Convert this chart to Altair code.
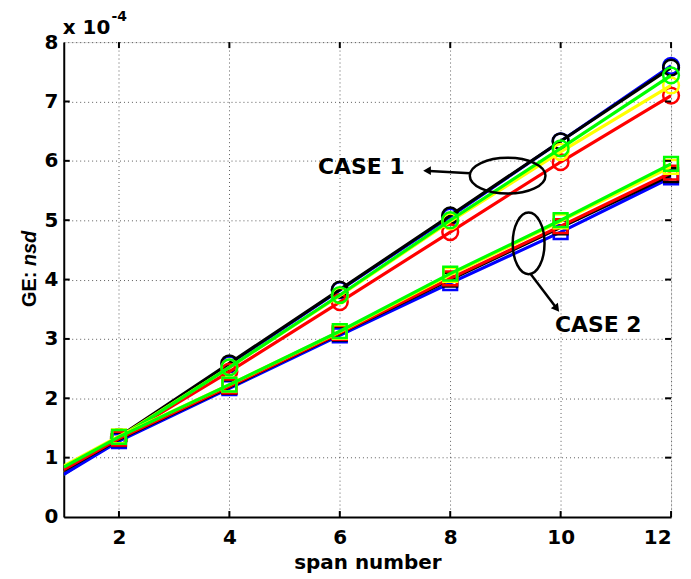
import altair as alt
import pandas as pd

# ---------------- data (units of 1e-4) ----------------
x_vals = [1, 2, 4, 6, 8, 10, 12]
marker_x = [2, 4, 6, 8, 10, 12]

case1_blue = [0.72, 1.32, 2.57, 3.82, 5.06, 6.33, 7.60]
case1_black = [0.74, 1.35, 2.59, 3.83, 5.08, 6.33, 7.57]
case1_red = [0.74, 1.33, 2.45, 3.62, 4.80, 5.98, 7.10]
case1_yellow = [0.75, 1.34, 2.52, 3.73, 4.98, 6.15, 7.27]
case1_green = [0.72, 1.33, 2.52, 3.74, 5.00, 6.21, 7.44]

case2_blue = [0.72, 1.28, 2.17, 3.06, 3.94, 4.80, 5.72]
case2_black = [0.78, 1.31, 2.19, 3.09, 4.00, 4.88, 5.76]
case2_red = [0.80, 1.32, 2.20, 3.10, 4.02, 4.90, 5.80]
case2_yellow = [0.86, 1.36, 2.23, 3.12, 4.08, 4.98, 5.90]
case2_green = [0.84, 1.35, 2.23, 3.13, 4.10, 5.00, 5.95]

x_ticks = [2, 4, 6, 8, 10, 12]
y_ticks = [0, 1, 2, 3, 4, 5, 6, 7, 8]

series = [
    ("case1", "blue", "#0000FF", case1_blue),
    ("case1", "black", "#000000", case1_black),
    ("case1", "red", "#FF0000", case1_red),
    ("case1", "yellow", "#FFFF00", case1_yellow),
    ("case1", "green", "#00FF00", case1_green),
    ("case2", "blue", "#0000FF", case2_blue),
    ("case2", "black", "#000000", case2_black),
    ("case2", "red", "#FF0000", case2_red),
    ("case2", "yellow", "#FFFF00", case2_yellow),
    ("case2", "green", "#00FF00", case2_green),
]

W, H = 610, 477
FONT = "DejaVu Sans"
FONT_V = "Liberation Sans"

xs = alt.Scale(domain=[1, 12], nice=False, zero=False)
ys = alt.Scale(domain=[0, 8], nice=False, zero=True)

xaxis = alt.Axis(values=x_ticks, title="span number", grid=True, tickSize=0,
                 labelFontSize=20, labelFontWeight="bold", labelFont=FONT,
                 labelColor="black", labelPadding=11,
                 titleFontSize=20, titleFontWeight="bold", titleFont=FONT,
                 titleColor="black", titlePadding=5,
                 domainColor="black", domainWidth=2,
                 gridColor="#333333", gridDash=[1, 3], gridWidth=1, gridOpacity=0.8)
yaxis = alt.Axis(values=y_ticks, title=None, grid=True, tickSize=0,
                 labelFontSize=20, labelFontWeight="bold", labelFont=FONT,
                 labelColor="black", labelPadding=6,
                 domainColor="black", domainWidth=2,
                 gridColor="#333333", gridDash=[1, 3], gridWidth=1, gridOpacity=0.8)

X = alt.X("x:Q", scale=xs, axis=xaxis)
Y = alt.Y("y:Q", scale=ys, axis=yaxis)

layers = []
for case, name, col, vals in series:
    df = pd.DataFrame({"x": x_vals, "y": vals})
    line = alt.Chart(df).mark_line(color=col, strokeWidth=3.2, clip=True).encode(x=X, y=Y)
    dm = df[df["x"].isin(marker_x)]
    shape = "circle" if case == "case1" else "square"
    size = 250 if case == "case1" else 190
    pts = alt.Chart(dm).mark_point(shape=shape, filled=False, color=col,
                                   strokeWidth=2.5, size=size, opacity=1).encode(x=X, y=Y)
    layers += [line, pts]

# inside tick marks (MATLAB style)
xt = pd.DataFrame({"x": x_ticks})
yt = pd.DataFrame({"y": y_ticks[1:-1]})
tick_layers = [
    alt.Chart(xt).mark_rule(color="black", strokeWidth=2).encode(
        x=X, y=alt.value(H), y2=alt.value(H - 6)),
    alt.Chart(xt).mark_rule(color="black", strokeWidth=2).encode(
        x=X, y=alt.value(0), y2=alt.value(6)),
    alt.Chart(yt).mark_rule(color="black", strokeWidth=2).encode(
        y=Y, x=alt.value(0), x2=alt.value(6)),
    alt.Chart(yt).mark_rule(color="black", strokeWidth=2).encode(
        y=Y, x=alt.value(W), x2=alt.value(W - 6)),
]

# annotations (data coordinates)
ann_text = pd.DataFrame({"x": [6.39, 10.68], "y": [5.89, 3.24], "t": ["CASE 1", "CASE 2"]})
texts = alt.Chart(ann_text).mark_text(font=FONT, fontSize=22, fontWeight="bold",
                                      color="black", baseline="middle").encode(
    x=X, y=Y, text="t:N")

ell1 = alt.Chart(pd.DataFrame({"x": [9.04], "y": [5.75]})).mark_point(
    shape="M-1,0A1,0.474,0,1,1,1,0A1,0.474,0,1,1,-1,0Z", size=5776,
    filled=False, color="black", strokeWidth=2.5, opacity=1).encode(x=X, y=Y)
ell2 = alt.Chart(pd.DataFrame({"x": [9.42], "y": [4.61]})).mark_point(
    shape="M0,-1A0.516,1,0,1,1,0,1A0.516,1,0,1,1,0,-1Z", size=3844,
    filled=False, color="black", strokeWidth=2.5, opacity=1).encode(x=X, y=Y)

arrows = pd.DataFrame({"x": [8.36, 9.46], "y": [5.79, 4.09],
                       "x2": [7.62, 9.90], "y2": [5.83, 3.55]})
arrow_lines = alt.Chart(arrows).mark_rule(color="black", strokeWidth=2.5).encode(
    x=X, y=Y, x2="x2:Q", y2="y2:Q")
head1 = alt.Chart(pd.DataFrame({"x": [7.58], "y": [5.835]})).mark_point(
    shape="triangle-left", filled=True, color="black", size=80, opacity=1).encode(x=X, y=Y)
head2 = alt.Chart(pd.DataFrame({"x": [9.93], "y": [3.51]})).mark_point(
    shape="triangle-up", filled=True, color="black", size=80, angle=142, opacity=1).encode(x=X, y=Y)

# y-axis title "GE: nsd" (nsd italic) and exponent label
ylab1 = alt.Chart(pd.DataFrame({"t": ["GE: "]})).mark_text(
    font=FONT_V, fontSize=20, fontWeight="bold", angle=270, align="left",
    baseline="alphabetic", color="black").encode(
    x=alt.value(-28), y=alt.value(266), text="t:N")
ylab2 = alt.Chart(pd.DataFrame({"t": ["nsd"]})).mark_text(
    font=FONT_V, fontSize=20, fontWeight="bold", fontStyle="italic", angle=270,
    align="left", baseline="alphabetic", color="black").encode(
    x=alt.value(-28), y=alt.value(225), text="t:N")
exp1 = alt.Chart(pd.DataFrame({"t": ["x 10"]})).mark_text(
    font=FONT, fontSize=20, fontWeight="bold", align="left", baseline="middle",
    color="black").encode(x=alt.value(-1), y=alt.value(-14), text="t:N")
exp2 = alt.Chart(pd.DataFrame({"t": ["-4"]})).mark_text(
    font=FONT, fontSize=14, fontWeight="bold", align="left", baseline="middle",
    color="black").encode(x=alt.value(48), y=alt.value(-25), text="t:N")

chart = alt.layer(*layers, *tick_layers, ell1, ell2, arrow_lines, head1, head2, texts,
                  ylab1, ylab2, exp1, exp2).properties(
    width=W, height=H,
    autosize=alt.AutoSizeParams(type="none"),
    padding={"left": 56, "top": 33, "right": 12, "bottom": 62},
).configure_view(stroke="black", strokeWidth=2).configure(background="white")

chart.save("out.html", embed_options={"renderer": "svg", "actions": False})
